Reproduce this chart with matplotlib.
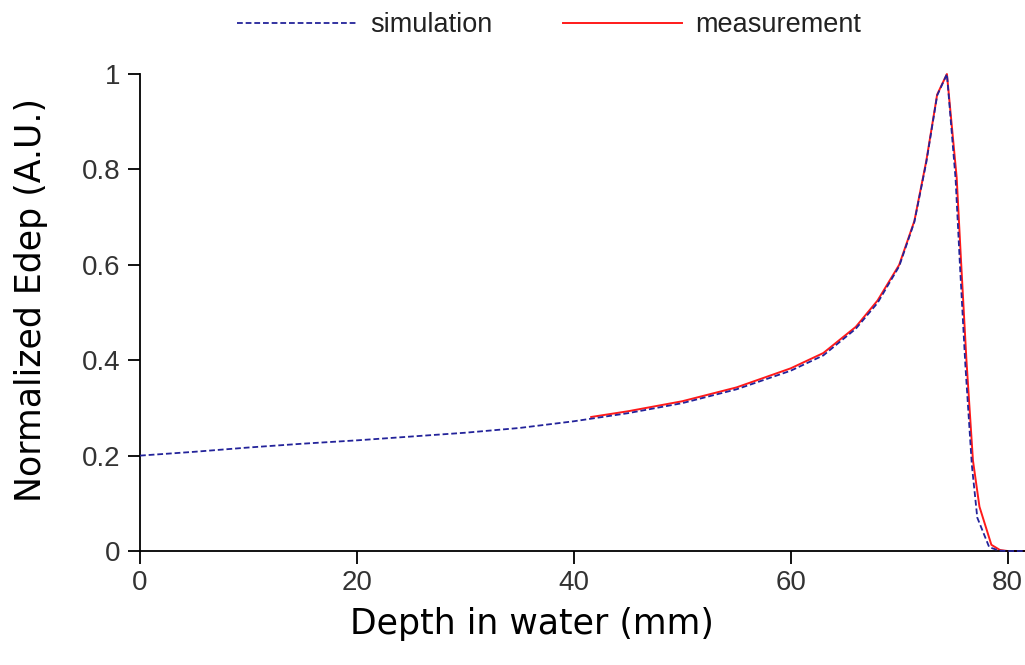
import matplotlib
matplotlib.use("Agg")
import matplotlib.pyplot as plt

# simulation curve (depth in mm, normalized Edep)
sim_x = [0, 5, 10, 15, 20, 25, 30, 35, 40, 45, 50, 55, 60, 63, 66, 68, 70,
         71.4, 72.5, 73.5, 74.4, 75.2, 75.6, 76.1, 76.7, 77.2, 78.3, 79.2, 80, 81.6]
sim_y = [0.200, 0.208, 0.217, 0.225, 0.232, 0.240, 0.248, 0.258, 0.272, 0.289,
         0.310, 0.339, 0.378, 0.410, 0.466, 0.520, 0.597, 0.690, 0.815, 0.955,
         1.0, 0.78, 0.60, 0.39, 0.18, 0.07, 0.008, 0.001, 0.0, 0.0]

# measurement curve
meas_x = [41.6, 45, 50, 55, 60, 63, 66, 68, 70, 71.4, 72.5, 73.5, 74.4, 75.3,
          75.7, 76.2, 76.8, 77.4, 78.5, 79.3, 80, 81.6]
meas_y = [0.281, 0.293, 0.314, 0.343, 0.383, 0.415, 0.470, 0.525, 0.600, 0.692,
          0.818, 0.957, 1.0, 0.783, 0.609, 0.40, 0.19, 0.093, 0.013, 0.002, 0.0, 0.0]

lib = ['Liberation Sans', 'DejaVu Sans']

fig = plt.figure(figsize=(10.25, 6.65), dpi=100)
ax = fig.add_axes([0.1366, 0.1714, 0.8634, 0.7173])

ax.plot(sim_x, sim_y, color='#23239a', linestyle=(0, (3.2, 1.6)), linewidth=1.3,
        label='simulation', clip_on=False, zorder=3)
ax.plot(meas_x, meas_y, color='#ff1a1a', linewidth=1.4, label='measurement',
        clip_on=False, zorder=2)

ax.set_xlim(0, 81.6)
ax.set_ylim(0, 1)
ax.set_xticks([0, 20, 40, 60, 80])
ax.set_yticks([0, 0.2, 0.4, 0.6, 0.8, 1])
ax.set_yticklabels(['0', '0.2', '0.4', '0.6', '0.8', '1'])

for s in ['top', 'right']:
    ax.spines[s].set_visible(False)
for s in ['left', 'bottom']:
    ax.spines[s].set_linewidth(1.3)

ax.tick_params(axis='both', direction='out', length=9, width=1.3,
               labelsize=20, labelcolor='#333333', pad=5)
for lab in ax.get_xticklabels() + ax.get_yticklabels():
    lab.set_family(lib)

ax.set_xlabel('Depth in water (mm)', fontsize=25, family='DejaVu Sans')
ax.set_ylabel('Normalized Edep (A.U.)', fontsize=25, family='DejaVu Sans')
ax.xaxis.set_label_coords(0.443, -0.117)
ax.yaxis.set_label_coords(-0.104, 0.526)

leg = fig.legend(loc='upper center', bbox_to_anchor=(0.536, 1.018), ncol=2,
                 frameon=False, handlelength=4.4, handletextpad=0.5,
                 columnspacing=2.6, prop={'family': lib, 'size': 19.5})
for t in leg.get_texts():
    t.set_color('#222222')

fig.savefig('out.png', dpi=100)
